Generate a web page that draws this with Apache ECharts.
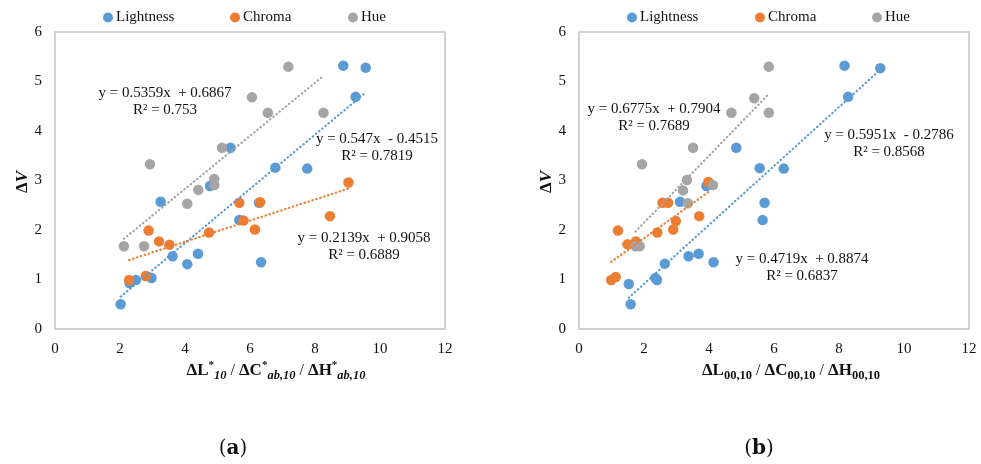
<!DOCTYPE html>
<html><head><meta charset="utf-8">
<script src="https://cdn.jsdelivr.net/npm/echarts@6/dist/echarts.min.js"></script>
<style>html,body{margin:0;padding:0;background:#fff}#c{width:981px;height:464px}</style>
</head><body><div id="c"></div>
<script>
// ---------- data: panel (a) ----------
const aLightness = [[2.02,0.50],[2.29,0.93],[2.49,0.99],[2.97,1.03],[3.62,1.47],[4.07,1.31],[4.40,1.52],[6.34,1.35],[3.25,2.57],[5.67,2.20],[6.28,2.55],[4.77,2.89],[5.40,3.66],[6.78,3.26],[7.76,3.24],[9.25,4.69],[8.87,5.32],[9.56,5.28]];
const aChroma = [[2.28,0.99],[2.79,1.07],[2.88,1.99],[3.20,1.77],[3.52,1.70],[4.74,1.95],[5.67,2.55],[5.80,2.19],[6.15,2.01],[6.31,2.56],[8.46,2.28],[9.03,2.96]];
const aHue = [[2.12,1.67],[2.74,1.67],[2.92,3.33],[4.07,2.53],[4.41,2.81],[4.90,3.03],[4.90,2.91],[5.14,3.66],[6.06,4.68],[6.55,4.37],[7.18,5.30],[8.26,4.37]];
// trendline coefficients (Lightness, Chroma, Hue)
const aSlope = [0.547, 0.2139, 0.5359];
const aIntercept = [-0.4515, 0.9058, 0.6867];
const aEquation = ['y = 0.547x  - 0.4515', 'y = 0.2139x  + 0.9058', 'y = 0.5359x  + 0.6867'];
const aR2 = ['R² = 0.7819', 'R² = 0.6889', 'R² = 0.753'];

// ---------- data: panel (b) ----------
const bLightness = [[1.59,0.50],[1.53,0.91],[2.35,1.03],[2.40,0.99],[2.64,1.32],[3.37,1.47],[3.68,1.52],[4.14,1.35],[3.11,2.57],[3.92,2.89],[4.84,3.66],[5.56,3.25],[6.30,3.24],[5.71,2.55],[5.65,2.20],[8.28,4.69],[8.17,5.32],[9.27,5.27]];
const bChroma = [[0.99,0.99],[1.13,1.05],[1.20,1.99],[1.49,1.71],[1.75,1.77],[2.41,1.95],[2.57,2.55],[2.74,2.55],[2.90,2.01],[2.98,2.18],[3.70,2.28],[3.98,2.97]];
const bHue = [[1.74,1.67],[1.87,1.67],[1.94,3.33],[3.35,2.54],[3.20,2.80],[3.32,3.01],[4.12,2.91],[3.51,3.66],[4.69,4.37],[5.39,4.66],[5.84,5.30],[5.84,4.37]];
const bSlope = [0.5951, 0.4719, 0.6775];
const bIntercept = [-0.2786, 0.8874, 0.7904];
const bEquation = ['y = 0.5951x  - 0.2786', 'y = 0.4719x  + 0.8874', 'y = 0.6775x  + 0.7904'];
const bR2 = ['R² = 0.8568', 'R² = 0.6837', 'R² = 0.7689'];

const seriesNames = ['Lightness', 'Chroma', 'Hue'];
const xTicks = [0, 2, 4, 6, 8, 10, 12];
const yTicks = [0, 1, 2, 3, 4, 5, 6];

// ---------- styling ----------
const colors = ['#5B9BD5', '#ED7D31', '#A5A5A5'];
const SERIF = 'Liberation Serif';

function trend(points, k, b) {
  const xs = points.map(p => p[0]);
  const x0 = Math.min(...xs), x1 = Math.max(...xs);
  return [[x0, k * x0 + b], [x1, k * x1 + b]];
}

const panels = [
  { sets: [aLightness, aChroma, aHue], slope: aSlope, icpt: aIntercept },
  { sets: [bLightness, bChroma, bHue], slope: bSlope, icpt: bIntercept }
];

const series = [];
panels.forEach((p, gi) => {
  p.sets.forEach((d, si) => {
    series.push({
      name: seriesNames[si], type: 'scatter', xAxisIndex: gi, yAxisIndex: gi,
      data: d, symbol: 'circle', symbolSize: 10.5, z: 2 + si,
      itemStyle: { color: colors[si], opacity: 1 }, emphasis: { disabled: true }, animation: false
    });
  });
  p.sets.forEach((d, si) => {
    series.push({
      name: seriesNames[si] + ' trend', type: 'line', xAxisIndex: gi, yAxisIndex: gi,
      data: trend(d, p.slope[si], p.icpt[si]), symbol: 'none', z: 6,
      lineStyle: { color: colors[si], width: 2.2, type: [0.5, 3.6], cap: 'round' },
      emphasis: { disabled: true }, animation: false, silent: true
    });
  });
});

function xAxisCfg(gi) {
  return {
    type: 'value', gridIndex: gi, min: 0, max: 12, interval: 2,
    axisLine: { show: false }, axisTick: { show: false }, splitLine: { show: false },
    axisLabel: { fontFamily: SERIF, fontSize: 15, color: '#111', margin: 13,
      formatter: v => (xTicks.includes(v) ? String(v) : '') }
  };
}
function yAxisCfg(gi) {
  return {
    type: 'value', gridIndex: gi, min: 0, max: 6, interval: 1,
    axisLine: { show: false }, axisTick: { show: false }, splitLine: { show: false },
    axisLabel: { fontFamily: SERIF, fontSize: 15, color: '#111', margin: 13,
      formatter: v => (yTicks.includes(v) ? String(v) : '') }
  };
}

function legendCfg(name, left) {
  return {
    data: [name], left: left, top: 10, icon: 'circle', itemWidth: 10, itemHeight: 10,
    itemGap: 0, selectedMode: false, padding: 0,
    textStyle: { fontFamily: SERIF, fontSize: 15, color: '#111', padding: [0, 0, 0, -2] }
  };
}

function eqText(x, y, l1, l2) {
  return [
    { type: 'text', x: x, y: y, silent: true, z: 10,
      style: { text: l1, font: '15px "Liberation Serif"', fill: '#111', align: 'center', verticalAlign: 'middle' } },
    { type: 'text', x: x, y: y + 17, silent: true, z: 10,
      style: { text: l2, font: '15px "Liberation Serif"', fill: '#111', align: 'center', verticalAlign: 'middle' } }
  ];
}

const titleRich = {
  b: { fontFamily: SERIF, fontWeight: 'bold', fontSize: 17, fill: '#111', lineHeight: 23 },
  sup: { fontFamily: SERIF, fontWeight: 'bold', fontSize: 11, fill: '#111', verticalAlign: 'top', lineHeight: 11 },
  subi: { fontFamily: SERIF, fontWeight: 'bold', fontStyle: 'italic', fontSize: 12.5, fill: '#111', verticalAlign: 'bottom', lineHeight: 12 },
  sub: { fontFamily: SERIF, fontWeight: 'bold', fontSize: 12.5, fill: '#111', verticalAlign: 'bottom', lineHeight: 12 },
  sl: { fontFamily: SERIF, fontSize: 16, fill: '#111', lineHeight: 23 }
};
const dvRich = {
  d: { fontFamily: SERIF, fontWeight: 'bold', fontSize: 17, fill: '#111' },
  v: { fontFamily: SERIF, fontWeight: 'bold', fontStyle: 'italic', fontSize: 17, fill: '#111' }
};
const capRich = {
  p: { fontFamily: 'DejaVu Serif', fontSize: 20, fill: '#111' },
  l: { fontFamily: 'DejaVu Serif', fontWeight: 'bold', fontSize: 20, fill: '#111' }
};

const graphic = [
  ...eqText(165, 93, aEquation[2], aR2[2]),
  ...eqText(377, 139, aEquation[0], aR2[0]),
  ...eqText(364, 238, aEquation[1], aR2[1]),
  ...eqText(654, 109, bEquation[2], bR2[2]),
  ...eqText(889, 135, bEquation[0], bR2[0]),
  ...eqText(802, 259, bEquation[1], bR2[1]),
  { type: 'text', x: 276, y: 371, silent: true,
    style: { text: '{b|ΔL}{sup|*}{subi|10}{sl| / }{b|ΔC}{sup|*}{subi|ab,10}{sl| / }{b|ΔH}{sup|*}{subi|ab,10}',
      rich: titleRich, align: 'center', verticalAlign: 'middle' } },
  { type: 'text', x: 791, y: 371, silent: true,
    style: { text: '{b|ΔL}{sub|00,10}{sl| / }{b|ΔC}{sub|00,10}{sl| / }{b|ΔH}{sub|00,10}',
      rich: titleRich, align: 'center', verticalAlign: 'middle' } },
  { type: 'text', x: 23, y: 182, rotation: Math.PI / 2, silent: true,
    style: { text: '{d|Δ}{v|V}', rich: dvRich, align: 'center', verticalAlign: 'middle' } },
  { type: 'text', x: 547, y: 182, rotation: Math.PI / 2, silent: true,
    style: { text: '{d|Δ}{v|V}', rich: dvRich, align: 'center', verticalAlign: 'middle' } },
  { type: 'text', x: 233, y: 449, silent: true,
    style: { text: '{p|(}{l|a}{p|)}', rich: capRich, align: 'center', verticalAlign: 'middle' } },
  { type: 'text', x: 759, y: 449, silent: true,
    style: { text: '{p|(}{l|b}{p|)}', rich: capRich, align: 'center', verticalAlign: 'middle' } }
];

const chart = echarts.init(document.getElementById('c'), null, { renderer: 'canvas' });
chart.setOption({
  backgroundColor: '#fff',
  animation: false,
  grid: [
    { left: 55, top: 32, width: 390, height: 297, show: true, borderColor: '#c4c4c4', borderWidth: 1.5, containLabel: false },
    { left: 579, top: 32, width: 390, height: 297, show: true, borderColor: '#c4c4c4', borderWidth: 1.5, containLabel: false }
  ],
  xAxis: [xAxisCfg(0), xAxisCfg(1)],
  yAxis: [yAxisCfg(0), yAxisCfg(1)],
  legend: [
    legendCfg('Lightness', 103), legendCfg('Chroma', 230), legendCfg('Hue', 348),
    legendCfg('Lightness', 627), legendCfg('Chroma', 755), legendCfg('Hue', 872)
  ],
  tooltip: { show: false },
  series: series,
  graphic: graphic
});
</script>
</body></html>
